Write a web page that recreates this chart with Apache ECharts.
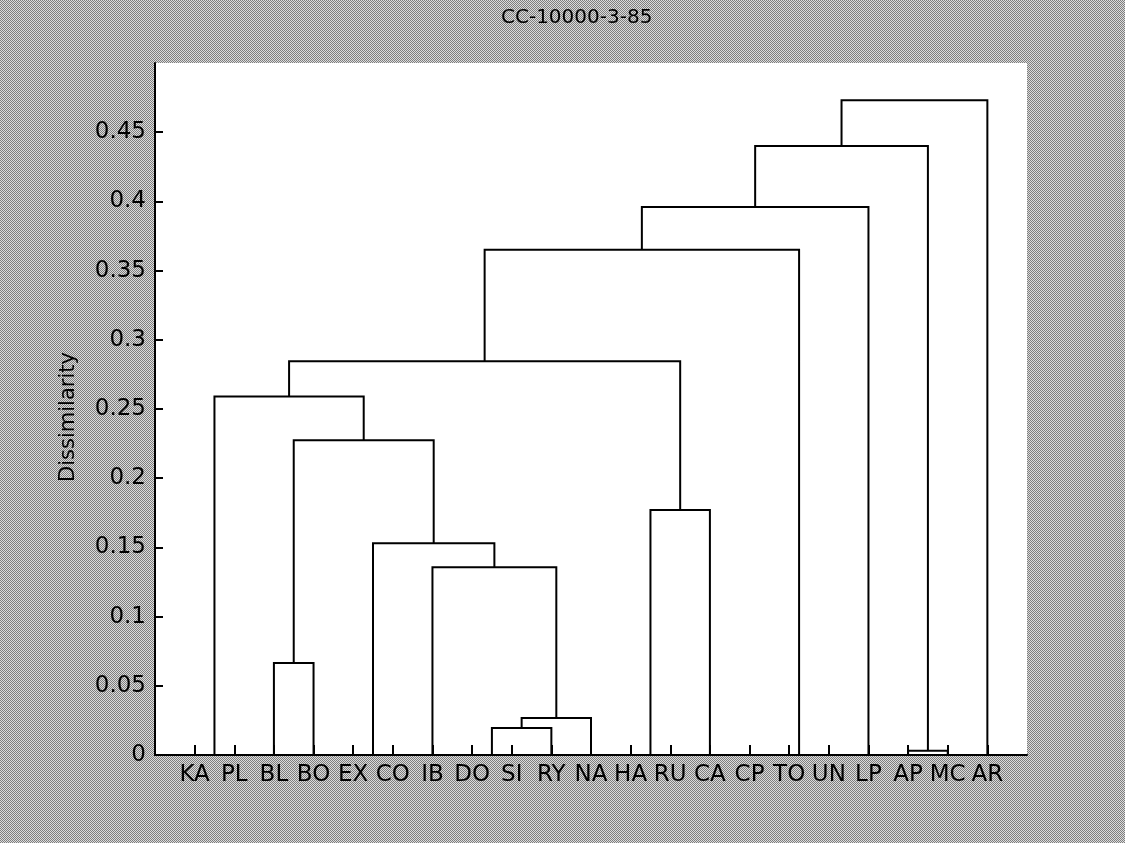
<!DOCTYPE html>
<html>
<head>
<meta charset="utf-8">
<title>CC-10000-3-85</title>
<script src="https://cdn.jsdelivr.net/npm/echarts@6/dist/echarts.min.js"></script>
<style>
  html, body { margin: 0; padding: 0; }
  #chart { width: 1125px; height: 843px; }
</style>
</head>
<body>
<div id="chart"></div>
<script>
// Leaf labels, left to right along the x axis
const leafLabels = ['KA','PL','BL','BO','EX','CO','IB','DO','SI','RY','NA',
                    'HA','RU','CA','CP','TO','UN','LP','AP','MC','AR'];

// Linkage: cluster ids 0..20 are leaves, merge k creates cluster 21 + k
const mergeLeft   = [0, 4, 7, 11, 14, 25, 18, 23, 28, 2, 6, 22, 24, 30, 21, 35, 36, 37, 38, 39];
const mergeRight  = [1, 5, 8, 12, 15, 16, 19, 9, 10, 3, 29, 31, 13, 32, 34, 33, 26, 17, 27, 20];
const mergeHeight = [0, 0, 0, 0, 0, 0, 0.003, 0.0195, 0.0267, 0.0664, 0.1357, 0.153, 0.177,
                     0.2274, 0.259, 0.2845, 0.365, 0.396, 0.440, 0.473];

// Dissimilarity tick values
const yTicks = [0, 0.05, 0.1, 0.15, 0.2, 0.25, 0.3, 0.35, 0.4, 0.45];

// Cluster positions: a leaf sits on its index, a merged cluster midway between its children
const n = leafLabels.length;
const posX = leafLabels.map((_, i) => i);
const posY = leafLabels.map(() => 0);
const links = [];
for (let k = 0; k < mergeHeight.length; k++) {
  const a = mergeLeft[k], b = mergeRight[k], h = mergeHeight[k];
  links.push([posX[a], posY[a], posX[b], posY[b], h]);
  posX[n + k] = (posX[a] + posX[b]) / 2;
  posY[n + k] = h;
}
const leafIdx = leafLabels.map((_, i) => i);

// Halftone-grey page backdrop
const tile = document.createElement('canvas');
tile.width = 2; tile.height = 2;
const tctx = tile.getContext('2d');
tctx.fillStyle = '#dcdcdc'; tctx.fillRect(0, 0, 2, 2);
tctx.fillStyle = '#7e7e7e'; tctx.fillRect(0, 0, 1, 1); tctx.fillRect(1, 1, 1, 1);

const font = 'DejaVu Sans';
const chart = echarts.init(document.getElementById('chart'));
chart.setOption({
  animation: false,
  backgroundColor: { image: tile, repeat: 'repeat' },
  title: {
    text: 'CC-10000-3-85',
    left: 496, top: 3,
    textStyle: { fontFamily: font, fontSize: 20, fontWeight: 'normal', color: '#000' }
  },
  grid: {
    left: 155, right: 98, top: 63, bottom: 88,
    show: true, backgroundColor: '#ffffff', borderWidth: 0
  },
  xAxis: {
    type: 'value', min: -1, max: 21,
    axisLine: { show: true, onZero: false, lineStyle: { color: '#000', width: 2 } },
    axisTick: { show: true, inside: true, length: 10, customValues: leafIdx,
                lineStyle: { color: '#000', width: 2 } },
    axisLabel: {
      customValues: leafIdx, margin: 9,
      formatter: v => leafLabels[Math.round(v)] || '',
      fontFamily: font, fontSize: 23, color: '#000'
    },
    splitLine: { show: false }
  },
  yAxis: {
    type: 'value', min: 0, max: 0.5,
    name: 'Dissimilarity', nameLocation: 'middle', nameGap: 76, nameRotate: 90,
    nameTextStyle: { fontFamily: font, fontSize: 21, color: '#000', padding: [0, 16, 0, 0] },
    axisLine: { show: true, onZero: false, lineStyle: { color: '#000', width: 2 } },
    axisTick: { show: true, inside: true, length: 8, customValues: yTicks,
                lineStyle: { color: '#000', width: 2 } },
    axisLabel: {
      customValues: yTicks, margin: 9,
      fontFamily: font, fontSize: 23, color: '#000'
    },
    splitLine: { show: false }
  },
  series: [{
    type: 'custom',
    coordinateSystem: 'cartesian2d',
    encode: { x: [0, 2], y: [1, 3, 4] },
    data: links,
    renderItem: (params, api) => {
      const xl = api.value(0), hl = api.value(1), xr = api.value(2), hr = api.value(3), h = api.value(4);
      return {
        type: 'polyline',
        shape: { points: [api.coord([xl, hl]), api.coord([xl, h]), api.coord([xr, h]), api.coord([xr, hr])] },
        style: { stroke: '#000', lineWidth: 2, fill: null }
      };
    }
  }]
});
</script>
</body>
</html>
